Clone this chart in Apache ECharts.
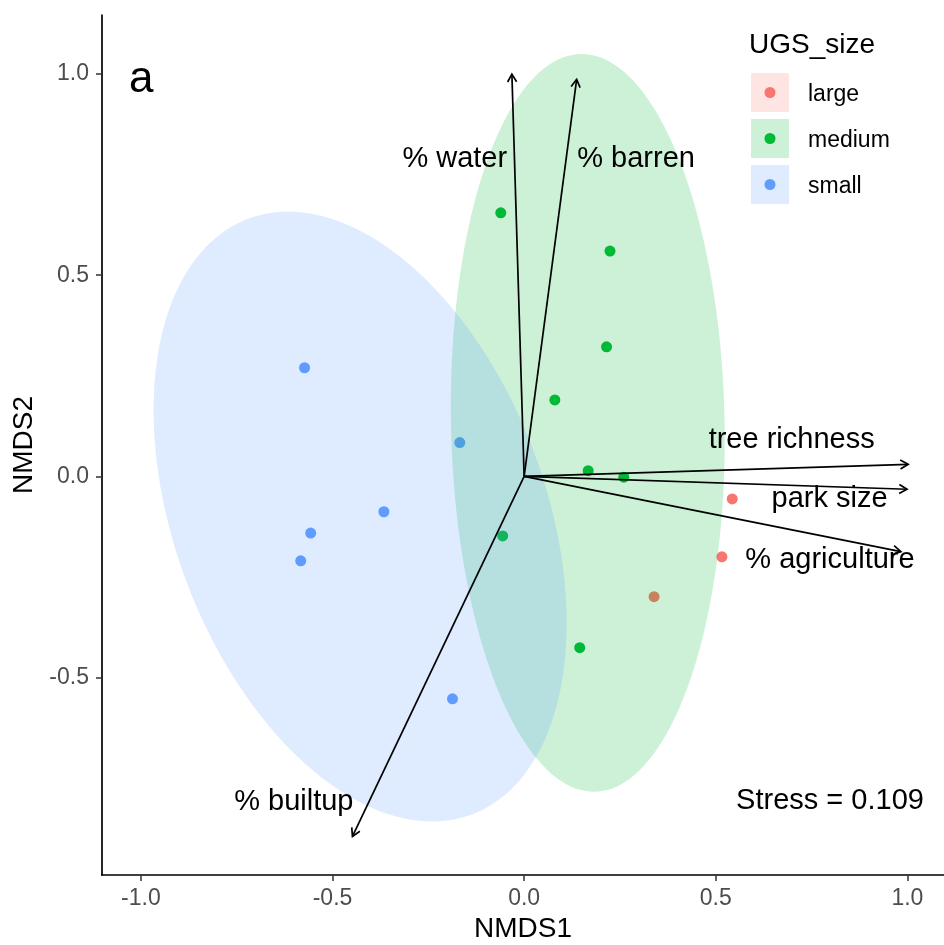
<!DOCTYPE html>
<html>
<head>
<meta charset="utf-8">
<script src="https://cdn.jsdelivr.net/npm/echarts@6/dist/echarts.min.js"></script>
<style>
  html, body { margin: 0; padding: 0; background: #ffffff; }
  #chart { width: 944px; height: 945px; }
</style>
</head>
<body>
<div id="chart"></div>
<script>
// Site groups and their colours
const groups = ['large', 'medium', 'small'];
const groupColors = ['#F8766D', '#00BA38', '#619CFF'];

// NMDS site scores per group [NMDS1, NMDS2]
const largeScores = [[0.543, -0.056], [0.516, -0.200], [0.339, -0.299]];
const mediumScores = [[-0.061, 0.655], [0.224, 0.560], [0.215, 0.322], [0.080, 0.190],
                      [0.167, 0.014], [0.260, -0.002], [-0.056, -0.148], [0.145, -0.426]];
const smallScores = [[-0.573, 0.270], [-0.168, 0.084], [-0.366, -0.088],
                     [-0.557, -0.141], [-0.583, -0.210], [-0.187, -0.553]];

// Confidence ellipses: centre, vector to the topmost point, horizontal conjugate half-width
const mediumEllipse = { center: [0.166, 0.133], top: [-0.016, 0.917], half: 0.357 };
const smallEllipse = { center: [-0.428, -0.100], top: [-0.188, 0.758], half: 0.505 };

// Environmental fit vectors (arrow tips) and where their names sit
const vectorNames = ['% water', '% barren', 'tree richness', 'park size', '% agriculture', '% builtup'];
const vectorTips = [[-0.032, 1.000], [0.137, 0.987], [1.002, 0.030], [0.999, -0.032], [0.983, -0.187], [-0.448, -0.895]];
const vectorLabelAt = [[-0.181, 0.789], [0.292, 0.789], [0.698, 0.091], [0.797, -0.056], [0.798, -0.208], [-0.601, -0.809]];

const stressValue = 0.109;
const stressAt = [0.798, -0.807];
const panelTag = 'a';
const panelTagAt = [-0.999, 0.985];

const xTicks = [-1.0, -0.5, 0.0, 0.5, 1.0];
const yTicks = [-0.5, 0.0, 0.5, 1.0];

const FONT = "'Liberation Sans', Arial, sans-serif";

function hexAlpha(hex, a) {
  const n = parseInt(hex.slice(1), 16);
  return 'rgba(' + ((n >> 16) & 255) + ',' + ((n >> 8) & 255) + ',' + (n & 255) + ',' + a + ')';
}

const chart = echarts.init(document.getElementById('chart'), null, { renderer: 'canvas' });

function ellipseSeries(ell, color) {
  return {
    type: 'custom',
    z: 3,
    silent: true,
    data: [[ell.center[0], ell.center[1]]],
    renderItem: function (params, api) {
      const pts = [];
      const n = 180;
      for (let i = 0; i < n; i++) {
        const t = 2 * Math.PI * i / n;
        const x = ell.center[0] + ell.top[0] * Math.cos(t) + ell.half * Math.sin(t);
        const y = ell.center[1] + ell.top[1] * Math.cos(t);
        pts.push(api.coord([x, y]));
      }
      return {
        type: 'polygon',
        shape: { points: pts },
        style: { fill: hexAlpha(color, 0.2), stroke: null }
      };
    }
  };
}

function scatterSeries(name, data, color) {
  return {
    name: name,
    type: 'scatter',
    z: 2,
    data: data,
    symbol: 'circle',
    symbolSize: 11,
    itemStyle: { color: color, opacity: 1 },
    emphasis: { disabled: true }
  };
}

const arrowSeries = {
  type: 'custom',
  z: 5,
  silent: true,
  data: vectorTips.map(t => [0, 0, t[0], t[1]]),
  renderItem: function (params, api) {
    const p0 = api.coord([api.value(0), api.value(1)]);
    const p1 = api.coord([api.value(2), api.value(3)]);
    const ang = Math.atan2(p1[1] - p0[1], p1[0] - p0[0]);
    const head = 9, spread = Math.PI / 6;
    const a = [p1[0] - head * Math.cos(ang - spread), p1[1] - head * Math.sin(ang - spread)];
    const b = [p1[0] - head * Math.cos(ang + spread), p1[1] - head * Math.sin(ang + spread)];
    const st = { stroke: '#000000', lineWidth: 1.7, fill: null };
    return {
      type: 'group',
      children: [
        { type: 'line', shape: { x1: p0[0], y1: p0[1], x2: p1[0], y2: p1[1] }, style: st },
        { type: 'polyline', shape: { points: [a, p1, b] }, style: st }
      ]
    };
  }
};

const textItems = vectorNames.map((n, i) => ({ text: n, at: vectorLabelAt[i], size: 29 }));
textItems.push({ text: 'Stress = ' + stressValue.toFixed(3), at: stressAt, size: 29 });
textItems.push({ text: panelTag, at: panelTagAt, size: 44 });

const textSeries = {
  type: 'custom',
  z: 6,
  silent: true,
  data: textItems.map(t => [t.at[0], t.at[1]]),
  renderItem: function (params, api) {
    const item = textItems[params.dataIndex];
    const p = api.coord([api.value(0), api.value(1)]);
    return {
      type: 'text',
      x: p[0], y: p[1],
      style: {
        text: item.text, fill: '#000000', fontSize: item.size, fontFamily: FONT,
        align: 'center', verticalAlign: 'middle'
      }
    };
  }
};

// Legend drawn as key squares with dots
const legendGraphics = [{
  type: 'text', left: 749, top: 31,
  style: { text: 'UGS_size', fill: '#000', fontSize: 28, fontFamily: FONT }
}];
groups.forEach((g, i) => {
  const top = 73 + i * 46;
  legendGraphics.push({
    type: 'rect', shape: { x: 751, y: top, width: 38, height: 39 },
    style: { fill: hexAlpha(groupColors[i], 0.2) }
  });
  legendGraphics.push({
    type: 'circle', shape: { cx: 770, cy: top + 19.5, r: 5.5 },
    style: { fill: groupColors[i] }
  });
  legendGraphics.push({
    type: 'text', x: 808, y: top + 21.5,
    style: { text: g, fill: '#000', fontSize: 23, fontFamily: FONT, verticalAlign: 'middle' }
  });
});

const option = {
  backgroundColor: '#ffffff',
  animation: false,
  grid: { left: 102, right: 0, top: 15, bottom: 70, containLabel: false, outerBoundsMode: 'none' },
  xAxis: {
    type: 'value', min: -1.1015, max: 1.0955,
    splitLine: { show: false },
    axisLine: { onZero: false, lineStyle: { color: '#000', width: 1.7 } },
    axisTick: { customValues: xTicks, length: 6, lineStyle: { color: '#333', width: 1.5 } },
    axisLabel: { customValues: xTicks, formatter: v => v.toFixed(1), color: '#4D4D4D', fontSize: 23, fontFamily: FONT, margin: 12 },
    name: 'NMDS1', nameLocation: 'middle', nameGap: 37,
    nameTextStyle: { color: '#000', fontSize: 28, fontFamily: FONT }
  },
  yAxis: {
    type: 'value', min: -0.991, max: 1.1469,
    splitLine: { show: false },
    axisLine: { onZero: false, lineStyle: { color: '#000', width: 1.7 } },
    axisTick: { customValues: yTicks, length: 6, lineStyle: { color: '#333', width: 1.5 } },
    axisLabel: { customValues: yTicks, formatter: v => v.toFixed(1), color: '#4D4D4D', fontSize: 23, fontFamily: FONT, margin: 13, padding: [5, 0, 0, 0] },
    name: 'NMDS2', nameLocation: 'middle', nameGap: 49, nameRotate: 90,
    nameTextStyle: { color: '#000', fontSize: 28, fontFamily: FONT }
  },
  graphic: legendGraphics,
  series: [
    scatterSeries(groups[0], largeScores, groupColors[0]),
    scatterSeries(groups[1], mediumScores, groupColors[1]),
    scatterSeries(groups[2], smallScores, groupColors[2]),
    ellipseSeries(mediumEllipse, groupColors[1]),
    ellipseSeries(smallEllipse, groupColors[2]),
    arrowSeries,
    textSeries
  ]
};

chart.setOption(option);
</script>
</body>
</html>
